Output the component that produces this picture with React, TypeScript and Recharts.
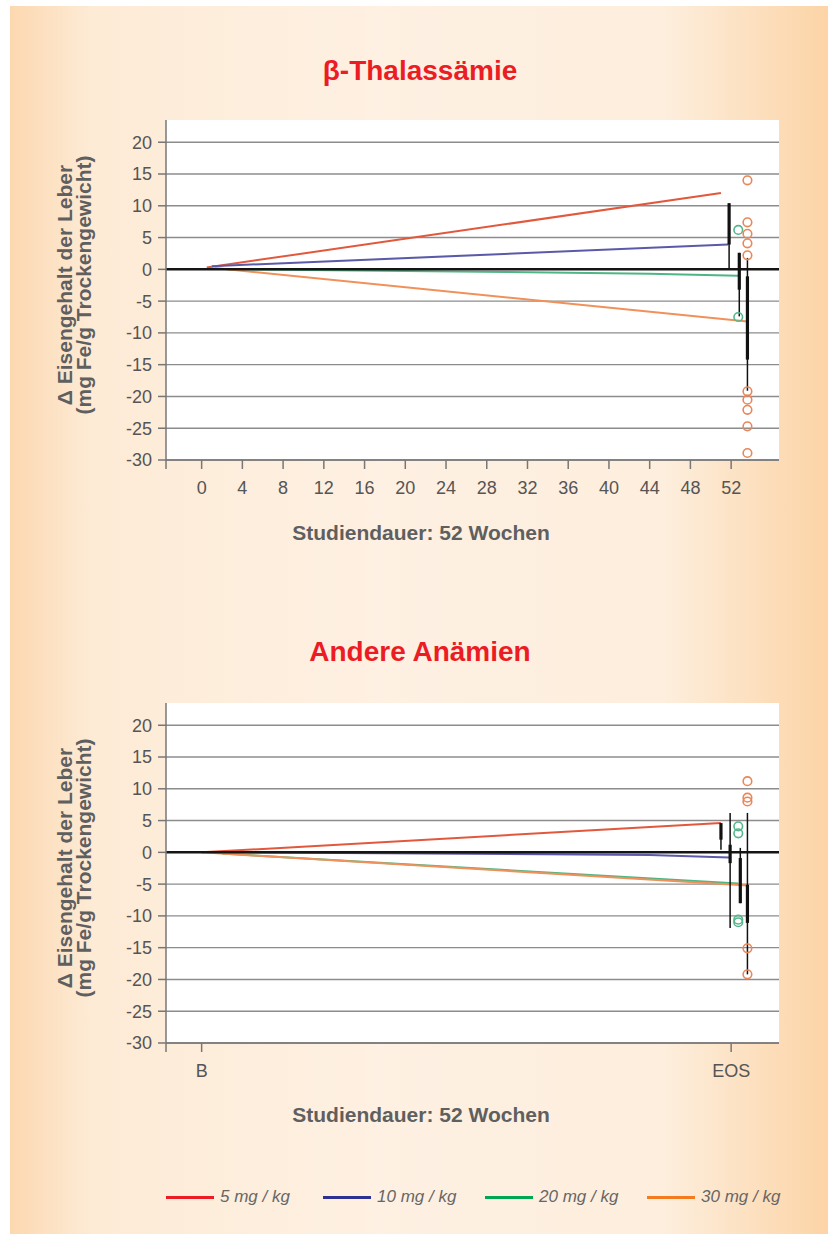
import React from "react";
import { ComposedChart, Line, Scatter, XAxis, YAxis, CartesianGrid, ReferenceLine } from "recharts";

// shared axes
const yTicks = [-30, -25, -20, -15, -10, -5, 0, 5, 10, 15, 20];
const weekTicks = [-3.5, 0, 4, 8, 12, 16, 20, 24, 28, 32, 36, 40, 44, 48, 52];
const visitTicks = [-3.5, 0, 52];
const visitLabels: Record<number, string> = { 0: "B", 52: "EOS" };

const doses = ["5 mg / kg", "10 mg / kg", "20 mg / kg", "30 mg / kg"];
const legendColors = ["#ec1c24", "#2e3192", "#00a651", "#f47b20"];
const lineColors = ["#e2583c", "#5b5aa8", "#4fb584", "#f0915a"];

// β-Thalassämie: mean change per dose (weeks / values)
const thalRedWeeks = [0.5, 51];
const thalRedValues = [0.3, 12.0];
const thalBlueWeeks = [1, 51.7];
const thalBlueValues = [0.5, 3.9];
const thalGreenWeeks = [2.5, 30, 44, 52.7];
const thalGreenValues = [0, -0.4, -0.7, -1.0];
const thalOrangeWeeks = [1.3, 53.6];
const thalOrangeValues = [0.2, -8.2];

// β-Thalassämie: spread bars at end of study
const thalBarWeeks = [51.8, 52.8, 53.6];
const thalThinLow = [0.2, -7.4, -19.1];
const thalThinHigh = [10.4, 2.6, 1.8];
const thalThickLow = [3.9, -3.2, -14.2];
const thalThickHigh = [10.4, 2.6, -1.1];

// β-Thalassämie: single patients
const thalGreenDotWeek = 52.7;
const thalGreenDots = [6.2, -7.5];
const thalOrangeDotWeek = 53.6;
const thalOrangeDots = [14.0, 7.4, 5.6, 4.1, 2.2, -19.2, -20.5, -22.1, -24.7, -28.9];

// Andere Anämien
const anRedWeeks = [0, 51];
const anRedValues = [0, 4.6];
const anBlueWeeks = [2.5, 44, 51.8];
const anBlueValues = [0, -0.4, -0.8];
const anGreenWeeks = [2, 52.7];
const anGreenValues = [-0.2, -4.9];
const anOrangeWeeks = [0, 53.6];
const anOrangeValues = [0, -5.2];

const anBarWeeks = [51.0, 51.9, 52.9, 53.6];
const anThinLow = [0.4, -11.9, -8.0, -19.2];
const anThinHigh = [4.6, 6.2, 0.7, 6.2];
const anThickLow = [2.0, -1.7, -8.0, -11.1];
const anThickHigh = [4.6, 1.2, -0.9, -5.1];

const anGreenDotWeek = 52.7;
const anGreenDots = [4.1, 3.0, -10.6, -11.0];
const anOrangeDotWeek = 53.6;
const anOrangeDots = [11.2, 8.6, 8.0, -15.1, -19.2];

const pts = (xs: number[], ys: number[]) => xs.map((x, i) => ({ x, y: ys[i] }));
const dots = (x: number, ys: number[]) => ys.map((y) => ({ x, y }));

const tickFont = { fontFamily: "'Liberation Sans', Arial, sans-serif", fontSize: 18, fill: "#555" };
const boldGray = { fontFamily: "'Liberation Sans', Arial, sans-serif", fontWeight: 700, color: "#5f5f5f" };

function Ring(color: string) {
  return (p: any) => <circle cx={p.cx} cy={p.cy} r={4.3} fill="none" stroke={color} strokeWidth={1.6} />;
}

function Panel(props: {
  top: number;
  ticks: number[];
  fmt: (v: number) => string;
  series: { x: number; y: number }[][];
  bars: { x: number[]; thinLo: number[]; thinHi: number[]; thickLo: number[]; thickHi: number[] };
  green: { x: number; y: number }[];
  orange: { x: number; y: number }[];
}) {
  const { bars } = props;
  return (
    <div style={{ position: "absolute", left: 0, top: props.top }}>
      <ComposedChart width={833} height={560} margin={{ top: 120, right: 54, bottom: 60, left: 0 }}>
        <CartesianGrid horizontal={false} vertical={false} stroke="none" fill="#ffffff" fillOpacity={1} />
        <CartesianGrid vertical={false} stroke="#8c8c8c" strokeWidth={1.4} horizontalValues={yTicks} />
        <XAxis
          type="number"
          dataKey="x"
          domain={[-3.5, 56.7]}
          ticks={props.ticks}
          interval={0}
          allowDataOverflow
          tickFormatter={props.fmt}
          tick={tickFont}
          tickSize={9}
          tickMargin={12}
          height={40}
          stroke="#777"
          strokeWidth={1.5}
        />
        <YAxis
          type="number"
          dataKey="y"
          domain={[-30, 23.5]}
          ticks={yTicks}
          interval={0}
          allowDataOverflow
          tick={tickFont}
          tickSize={8}
          tickMargin={6}
          width={166}
          stroke="#777"
          strokeWidth={1.5}
        />
        {props.series.map((d, i) => (
          <Line key={"s" + i} data={d} dataKey="y" type="linear" stroke={lineColors[i]} strokeWidth={2} dot={false} isAnimationActive={false} />
        ))}
        <ReferenceLine y={0} stroke="#151515" strokeWidth={2.5} />
        {bars.x.map((x, i) => (
          <Line key={"t" + i} data={[{ x, y: bars.thinLo[i] }, { x, y: bars.thinHi[i] }]} dataKey="y" stroke="#111" strokeWidth={1.5} dot={false} isAnimationActive={false} />
        ))}
        {bars.x.map((x, i) => (
          <Line key={"k" + i} data={[{ x, y: bars.thickLo[i] }, { x, y: bars.thickHi[i] }]} dataKey="y" stroke="#111" strokeWidth={3.2} dot={false} isAnimationActive={false} />
        ))}
        <Scatter data={props.green} dataKey="y" shape={Ring("#55b68b")} isAnimationActive={false} />
        <Scatter data={props.orange} dataKey="y" shape={Ring("#e8875a")} isAnimationActive={false} />
      </ComposedChart>
    </div>
  );
}

function YLabel({ cy }: { cy: number }) {
  return (
    <div
      style={{
        position: "absolute",
        left: 75 - 170,
        top: cy - 20,
        width: 340,
        height: 40,
        transform: "rotate(-90deg)",
        textAlign: "center",
        fontSize: 21,
        lineHeight: "19px",
        whiteSpace: "nowrap",
        ...boldGray,
      }}
    >
      <div>Δ Eisengehalt der Leber</div>
      <div>(mg Fe/g Trockengewicht)</div>
    </div>
  );
}

function Title({ text, cy }: { text: string; cy: number }) {
  return (
    <div
      style={{
        position: "absolute",
        left: 0,
        width: 840,
        top: cy - 17,
        textAlign: "center",
        fontFamily: "'Liberation Sans', Arial, sans-serif",
        fontWeight: 700,
        fontSize: 28,
        lineHeight: "34px",
        color: "#ec1c24",
      }}
    >
      {text}
    </div>
  );
}

function XLabel({ cy }: { cy: number }) {
  return (
    <div style={{ position: "absolute", left: 0, width: 842, top: cy - 13, textAlign: "center", fontSize: 21, lineHeight: "26px", ...boldGray }}>
      Studiendauer: 52 Wochen
    </div>
  );
}

export default function App() {
  const legendX = [166, 323, 485, 647];
  return (
    <div style={{ position: "absolute", left: 0, top: 0, width: 833, height: 1236, background: "#fff", overflow: "hidden" }}>
      <div
        style={{
          position: "absolute",
          left: 10,
          top: 6,
          width: 818,
          height: 1228,
          background: "linear-gradient(to right, #fcd8b0 0%, #fdebd6 10%, #fef0e2 45%, #fdeedd 80%, #fcd4a6 100%)",
        }}
      />
      <Title text="β-Thalassämie" cy={71} />
      <YLabel cy={285} />
      <Panel
        top={0}
        ticks={weekTicks}
        fmt={(v) => (v < 0 ? "" : String(v))}
        series={[
          pts(thalRedWeeks, thalRedValues),
          pts(thalBlueWeeks, thalBlueValues),
          pts(thalGreenWeeks, thalGreenValues),
          pts(thalOrangeWeeks, thalOrangeValues),
        ]}
        bars={{ x: thalBarWeeks, thinLo: thalThinLow, thinHi: thalThinHigh, thickLo: thalThickLow, thickHi: thalThickHigh }}
        green={dots(thalGreenDotWeek, thalGreenDots)}
        orange={dots(thalOrangeDotWeek, thalOrangeDots)}
      />
      <XLabel cy={533} />

      <Title text="Andere Anämien" cy={652} />
      <YLabel cy={868} />
      <Panel
        top={583}
        ticks={visitTicks}
        fmt={(v) => visitLabels[v] ?? ""}
        series={[
          pts(anRedWeeks, anRedValues),
          pts(anBlueWeeks, anBlueValues),
          pts(anGreenWeeks, anGreenValues),
          pts(anOrangeWeeks, anOrangeValues),
        ]}
        bars={{ x: anBarWeeks, thinLo: anThinLow, thinHi: anThinHigh, thickLo: anThickLow, thickHi: anThickHigh }}
        green={dots(anGreenDotWeek, anGreenDots)}
        orange={dots(anOrangeDotWeek, anOrangeDots)}
      />
      <XLabel cy={1115} />

      {doses.map((d, i) => (
        <div key={d} style={{ position: "absolute", left: legendX[i], top: 1186, height: 22, display: "flex", alignItems: "center" }}>
          <div style={{ width: 48, height: 3, background: legendColors[i], marginRight: 6 }} />
          <span style={{ fontFamily: "'Liberation Sans', Arial, sans-serif", fontStyle: "italic", fontSize: 17, color: "#666" }}>{d}</span>
        </div>
      ))}
    </div>
  );
}
